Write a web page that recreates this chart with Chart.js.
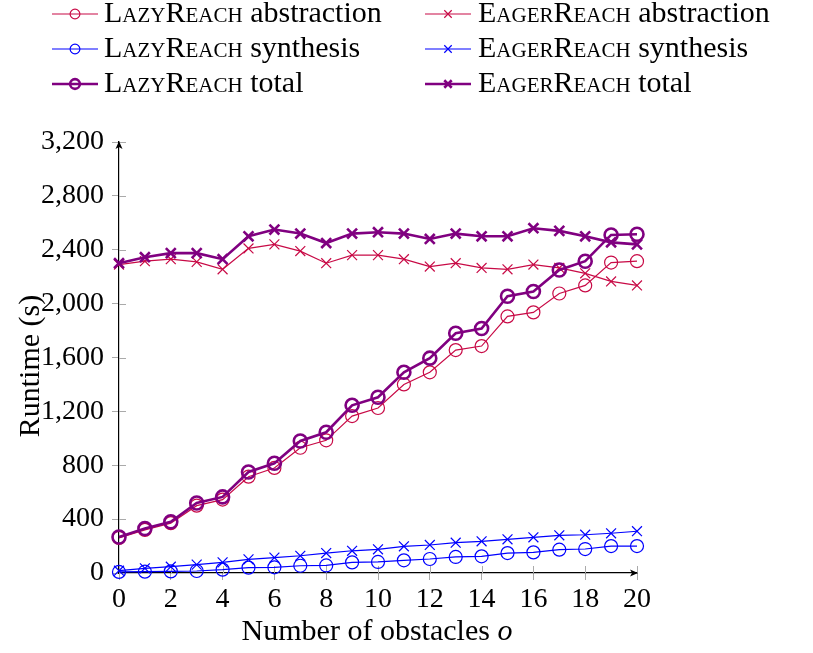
<!DOCTYPE html>
<html>
<head>
<meta charset="utf-8">
<script src="https://cdn.jsdelivr.net/npm/chart.js@4.4.1/dist/chart.umd.min.js"></script>
<style>
  body { margin: 0; background: #fff; }
  #wrap { width: 813px; height: 653px; position: relative; }
</style>
</head>
<body>
<div id="wrap"><canvas id="runtime-chart"></canvas></div>
<script>
// Number of obstacles o
const obstacles = [0, 1, 2, 3, 4, 5, 6, 7, 8, 9, 10, 11, 12, 13, 14, 15, 16, 17, 18, 19, 20];

// runtimes in seconds
const lazyAbstraction = [260, 320, 370, 500, 545, 715, 780, 930, 985, 1165, 1225, 1400, 1490, 1655, 1685, 1905, 1935, 2075, 2135, 2305, 2315];
const eagerAbstraction = [2290, 2315, 2330, 2310, 2255, 2410, 2440, 2390, 2300, 2360, 2360, 2330, 2275, 2300, 2265, 2255, 2290, 2265, 2225, 2165, 2135];
const lazySynthesis = [8, 10, 12, 15, 25, 40, 42, 54, 56, 79, 82, 94, 104, 119, 124, 148, 153, 173, 178, 200, 200];
const eagerSynthesis = [17, 35, 47, 62, 79, 101, 114, 128, 148, 165, 176, 198, 208, 225, 235, 250, 265, 280, 284, 295, 310];
const lazyTotal = [267, 330, 380, 520, 565, 750, 815, 980, 1045, 1245, 1305, 1490, 1595, 1780, 1815, 2055, 2090, 2250, 2315, 2510, 2515];
const eagerTotal = [2300, 2345, 2375, 2375, 2330, 2500, 2550, 2520, 2450, 2520, 2530, 2520, 2480, 2520, 2500, 2500, 2560, 2540, 2500, 2455, 2440];

const methodNames = ["LazyReach", "EagerReach"];
const partNames = ["abstraction", "synthesis", "total"];
const yTicks = [0, 400, 800, 1200, 1600, 2000, 2400, 2800, 3200];

const RED = "rgb(200, 10, 70)";
const BLUE = "#0000ff";
const PURPLE = "#800080";
const FONT = '"Liberation Serif", "Times New Roman", serif';

function serie(method, part, data, color, total) {
  const lazy = method === 0;
  return {
    label: methodNames[method] + " " + partNames[part],
    method: method,
    part: part,
    data: data.map((v, i) => ({ x: obstacles[i], y: v })),
    borderColor: color,
    backgroundColor: "rgba(0,0,0,0)",
    borderWidth: total ? 2.6 : 1.2,
    pointStyle: lazy ? "circle" : "crossRot",
    pointRadius: lazy ? 6.5 : 7,
    pointBorderWidth: total ? 2.6 : 1.2,
    pointBorderColor: color,
    pointBackgroundColor: "rgba(0,0,0,0)",
    tension: 0,
    clip: false,
    order: total ? 0 : 1
  };
}

// legend order: two columns, three rows
const datasets = [
  serie(0, 0, lazyAbstraction, RED, false),
  serie(1, 0, eagerAbstraction, RED, false),
  serie(0, 1, lazySynthesis, BLUE, false),
  serie(1, 1, eagerSynthesis, BLUE, false),
  serie(0, 2, lazyTotal, PURPLE, true),
  serie(1, 2, eagerTotal, PURPLE, true)
];

// pgfplots style legend: small caps method name + normal text
const texLegend = {
  id: "texLegend",
  afterDraw(chart) {
    const ctx = chart.ctx;
    ctx.save();
    chart.data.datasets.forEach((ds, i) => {
      const col = i % 2;
      const row = Math.floor(i / 2);
      const sx = col ? 425 : 52;
      const tx = col ? 478 : 104;
      const y = [14, 49, 84][row];

      ctx.strokeStyle = ds.borderColor;
      ctx.lineWidth = ds.borderWidth;
      ctx.beginPath();
      ctx.moveTo(sx, y);
      ctx.lineTo(sx + 46, y);
      ctx.stroke();
      ctx.fillStyle = "rgba(0,0,0,0)";
      Chart.helpers.drawPoint(ctx, {
        pointStyle: ds.pointStyle,
        radius: ds.pointRadius * 0.75,
        borderWidth: ds.pointBorderWidth
      }, sx + 23, y);

      ctx.fillStyle = "#000";
      ctx.textBaseline = "middle";
      ctx.textAlign = "left";
      ctx.font = "small-caps 30px " + FONT;
      const name = methodNames[ds.method];
      ctx.fillText(name, tx, y);
      const w = ctx.measureText(name + " ").width;
      ctx.font = "30px " + FONT;
      ctx.fillText(partNames[ds.part], tx + w, y);
    });
    ctx.restore();
  }
};

// inner halves of the tick marks, axis arrows and axis titles
const axisDecor = {
  id: "axisDecor",
  beforeDatasetsDraw(chart) {
    const ctx = chart.ctx;
    const a = chart.chartArea;
    ctx.save();
    ctx.strokeStyle = "#aaa";
    ctx.lineWidth = 1;
    ctx.beginPath();
    chart.scales.x.ticks.forEach(t => {
      const px = Math.round(chart.scales.x.getPixelForValue(t.value)) + 0.5;
      ctx.moveTo(px, a.bottom);
      ctx.lineTo(px, a.bottom - 7);
    });
    chart.scales.y.ticks.forEach(t => {
      const py = Math.round(chart.scales.y.getPixelForValue(t.value)) + 0.5;
      ctx.moveTo(a.left, py);
      ctx.lineTo(a.left + 7, py);
    });
    ctx.stroke();
    ctx.restore();
  },
  afterDraw(chart) {
    const ctx = chart.ctx;
    const a = chart.chartArea;
    ctx.save();
    ctx.fillStyle = "#000";
    ctx.beginPath();
    ctx.moveTo(a.right + 1, a.bottom);
    ctx.lineTo(a.right - 7, a.bottom - 3.5);
    ctx.lineTo(a.right - 5, a.bottom);
    ctx.lineTo(a.right - 7, a.bottom + 3.5);
    ctx.closePath();
    ctx.fill();
    ctx.beginPath();
    ctx.moveTo(a.left, a.top - 1);
    ctx.lineTo(a.left - 3.5, a.top + 7);
    ctx.lineTo(a.left, a.top + 5);
    ctx.lineTo(a.left + 3.5, a.top + 7);
    ctx.closePath();
    ctx.fill();

    ctx.textBaseline = "middle";
    const main = "Number of obstacles ";
    ctx.font = "30px " + FONT;
    const w1 = ctx.measureText(main).width;
    ctx.font = "italic 30px " + FONT;
    const w2 = ctx.measureText("o").width;
    const cx = (a.left + a.right) / 2 - 1;
    const x0 = cx - (w1 + w2) / 2;
    ctx.textAlign = "left";
    ctx.font = "30px " + FONT;
    ctx.fillText(main, x0, 632);
    ctx.font = "italic 30px " + FONT;
    ctx.fillText("o", x0 + w1, 632);

    ctx.translate(31, 366);
    ctx.rotate(-Math.PI / 2);
    ctx.textAlign = "center";
    ctx.font = "30px " + FONT;
    ctx.fillText("Runtime (s)", 0, 0);
    ctx.restore();
  }
};

new Chart(document.querySelector("#runtime-chart"), {
  type: "line",
  data: { datasets: datasets },
  options: {
    responsive: true,
    maintainAspectRatio: false,
    animation: false,
    layout: { padding: { top: 142, right: 176, bottom: 40, left: 0 } },
    plugins: { legend: { display: false }, tooltip: { enabled: false } },
    scales: {
      x: {
        type: "linear",
        min: 0,
        max: 20,
        afterFit: (scale) => { scale.height = 40; },
        ticks: { stepSize: 2, color: "#000", padding: 3, maxRotation: 0, font: { family: FONT, size: 28 } },
        grid: { drawOnChartArea: false, drawTicks: true, tickLength: 7, tickColor: "#aaa", tickWidth: 1 },
        border: { display: true, color: "#000", width: 1.2 }
      },
      y: {
        min: 0,
        max: 3200,
        afterFit: (scale) => { scale.width = 119; },
        afterBuildTicks: (scale) => { scale.ticks = yTicks.map(v => ({ value: v })); },
        ticks: { color: "#000", padding: 8, font: { family: FONT, size: 28 } },
        grid: { drawOnChartArea: false, drawTicks: true, tickLength: 7, tickColor: "#aaa", tickWidth: 1 },
        border: { display: true, color: "#000", width: 1.2 }
      }
    }
  },
  plugins: [texLegend, axisDecor]
});
</script>
</body>
</html>
